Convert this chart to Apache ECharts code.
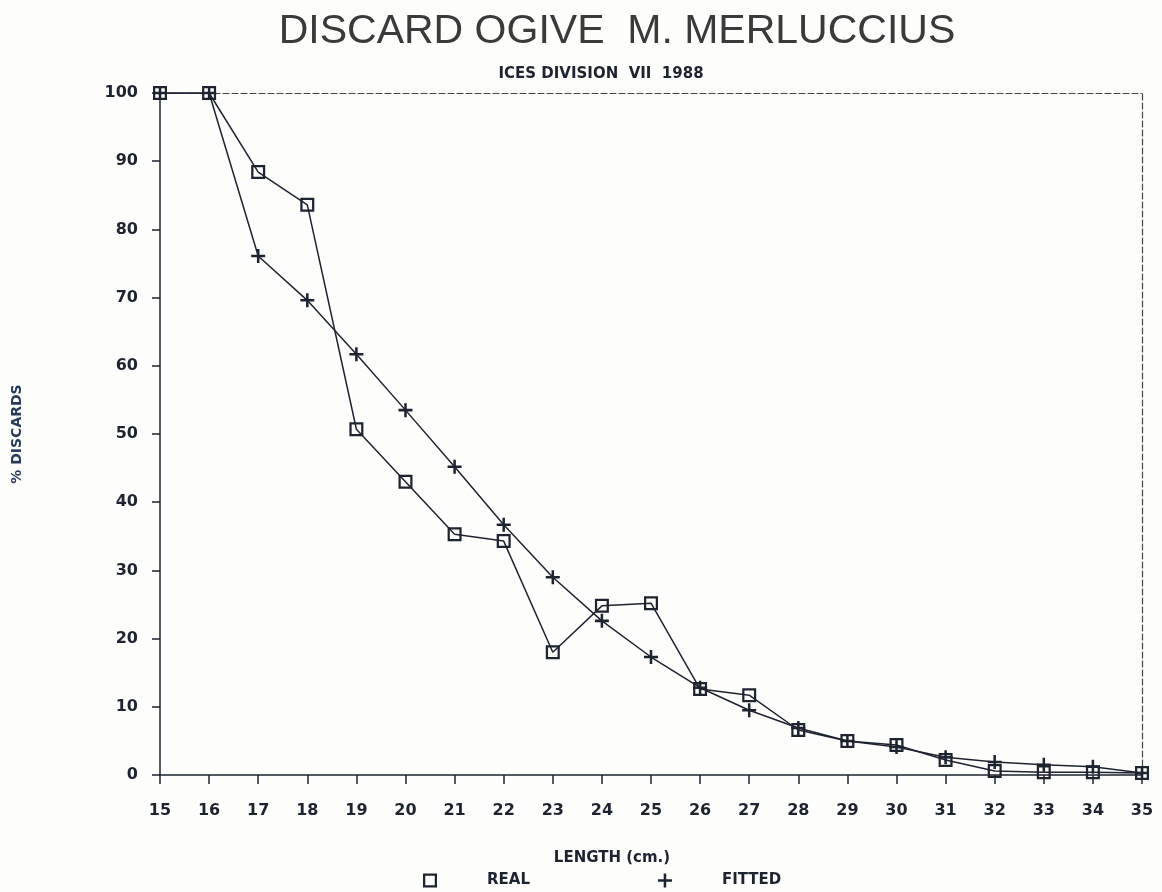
<!DOCTYPE html>
<html><head><meta charset="utf-8">
<script src="https://cdn.jsdelivr.net/npm/echarts@6/dist/echarts.min.js"></script>
<style>html,body{margin:0;padding:0;background:#fdfdfb;}#c{width:1162px;height:892px;}</style>
</head><body><div id="c"></div>
<script>
const lengths = [15,16,17,18,19,20,21,22,23,24,25,26,27,28,29,30,31,32,33,34,35];
const realValues = [100,100,88.4,83.6,50.7,43.0,35.3,34.3,18.0,24.8,25.2,12.6,11.7,6.6,5.0,4.4,2.2,0.6,0.4,0.4,0.3];
const fittedValues = [100,100,76.1,69.6,61.7,53.5,45.2,36.7,29.0,22.6,17.3,12.8,9.5,6.9,5.0,4.1,2.6,1.9,1.5,1.2,0.3];
const titleText = 'DISCARD OGIVE  M. MERLUCCIUS';
const subtitleText = 'ICES DIVISION  VII  1988';
const xName = 'LENGTH (cm.)';
const yName = '% DISCARDS';

const ink = '#1e2330';
const sq = 'path://M0,0H10V10H0Z M1.6,1.6V8.4H8.4V1.6Z';
const plus = 'path://M4.1,0H5.9V4.1H10V5.9H5.9V10H4.1V5.9H0V4.1H4.1Z';
const pair = (xs, ys) => xs.map((x,i)=>[x, ys[i]]);
const lbl = {fontFamily:'DejaVu Sans',fontWeight:'bold',fontSize:16,color:ink};

const chart = echarts.init(document.getElementById('c'));
chart.setOption({
  backgroundColor:'#fdfdfb',
  animation:false,
  title:[
    {text:titleText,left:612,top:6,textAlign:'center',
     textStyle:{fontFamily:'Liberation Sans',fontWeight:'normal',fontSize:41,color:'#3a3a3a'}},
    {text:subtitleText,left:596,top:62,textAlign:'center',
     textStyle:{fontFamily:'DejaVu Sans',fontWeight:'bold',fontSize:15,color:ink}}
  ],
  grid:{left:160,right:20,top:93,bottom:117},
  legend:{
    left:418, top:868, itemWidth:14, itemHeight:14, itemGap:128,
    textStyle:{fontFamily:'DejaVu Sans',fontWeight:'bold',fontSize:15,color:ink,padding:[0,0,0,45]},
    data:[
      {name:'REAL',icon:sq,itemStyle:{color:ink}},
      {name:'FITTED',icon:plus,itemStyle:{color:ink}}
    ]
  },
  xAxis:[{
    type:'value',min:15,max:35,interval:1,
    name:xName,nameLocation:'middle',nameGap:76,
    nameTextStyle:{fontFamily:'DejaVu Sans',fontWeight:'bold',fontSize:15,color:ink,padding:[0,78,0,0]},
    axisLine:{onZero:false,lineStyle:{color:ink,width:1.5}},
    axisTick:{show:true,inside:false,length:9,lineStyle:{color:ink,width:1.5}},
    axisLabel:Object.assign({margin:28},lbl),
    splitLine:{show:false}
  },{
    type:'value',min:15,max:35,position:'top',
    axisLine:{show:true,onZero:false,lineStyle:{color:'#444',width:1.2,type:[6,3]}},
    axisTick:{show:false},axisLabel:{show:false},splitLine:{show:false}
  }],
  yAxis:[{
    type:'value',min:0,max:100,interval:10,
    name:yName,nameLocation:'middle',nameGap:136,nameRotate:90,
    nameTextStyle:{fontFamily:'DejaVu Sans',fontWeight:'bold',fontSize:14,color:'#2a3a5a'},
    axisLine:{show:true,onZero:false,lineStyle:{color:ink,width:1.5}},
    axisTick:{show:true,inside:false,length:8,lineStyle:{color:ink,width:1.5}},
    axisLabel:Object.assign({margin:22},lbl),
    splitLine:{show:false}
  },{
    type:'value',min:0,max:100,position:'right',
    axisLine:{show:true,onZero:false,lineStyle:{color:'#444',width:1.2,type:[6,3]}},
    axisTick:{show:false},axisLabel:{show:false},splitLine:{show:false}
  }],
  series:[
    {name:'REAL',type:'line',data:pair(lengths,realValues),symbol:sq,symbolSize:14,
     lineStyle:{color:ink,width:1.5},itemStyle:{color:ink},z:3},
    {name:'FITTED',type:'line',data:pair(lengths,fittedValues),symbol:plus,symbolSize:14,
     lineStyle:{color:ink,width:1.5},itemStyle:{color:ink},z:4}
  ]
});
</script></body></html>
